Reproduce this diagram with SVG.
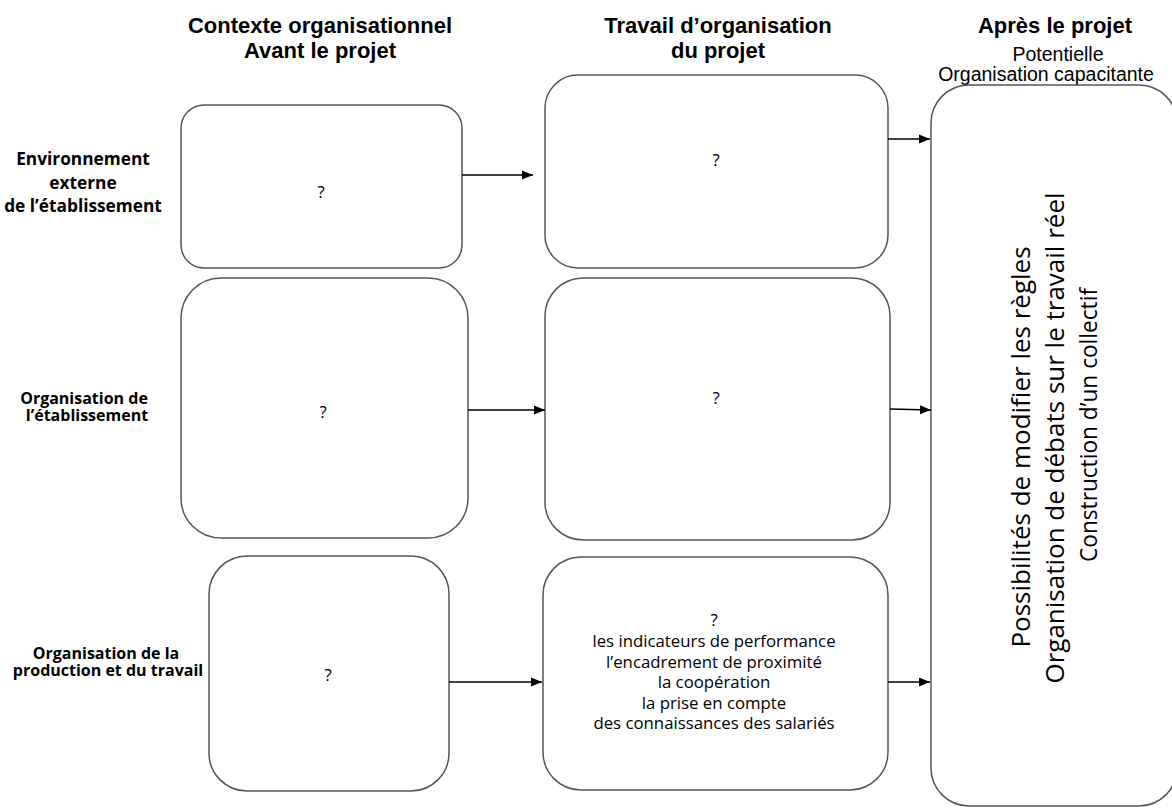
<svg xmlns="http://www.w3.org/2000/svg" width="1172" height="809" viewBox="0 0 1172 809">
<defs>
<marker id="arr" markerUnits="userSpaceOnUse" markerWidth="12" markerHeight="10" refX="11" refY="5" orient="auto">
<path d="M0,0.5 L11,5 L0,9.5 Z" fill="#000"/>
</marker>
<style>
.box{fill:#fff;stroke:#555;stroke-width:1.5}
.hd{font-family:"Liberation Sans",Arial,sans-serif;font-weight:bold;font-size:22px;fill:#000;text-anchor:middle}
.sub{font-family:"Liberation Sans",Arial,sans-serif;font-size:19.5px;fill:#000;text-anchor:middle}
.lab{font-family:"Open Sans","Noto Sans",sans-serif;font-weight:bold;font-size:16px;fill:#000;text-anchor:middle}
.labL{font-family:"Open Sans","Noto Sans",sans-serif;font-weight:bold;font-size:17.3px;fill:#000;text-anchor:middle}
.txt{font-family:"Open Sans","Noto Sans",sans-serif;font-size:16.8px;fill:#000;text-anchor:middle}
.big{font-family:"Open Sans","Noto Sans",sans-serif;font-size:26px;fill:#000;text-anchor:middle}
.con{stroke:#000;stroke-width:1.4;fill:none;marker-end:url(#arr)}
</style>
</defs>
<rect width="1172" height="809" fill="#fff"/>

<g id="headers">
<text class="hd" x="320" y="33">Contexte organisationnel</text>
<text class="hd" x="320" y="58">Avant le projet</text>
<text class="hd" x="718" y="33">Travail d’organisation</text>
<text class="hd" x="718" y="58">du projet</text>
<text class="hd" x="1055" y="33">Après le projet</text>
<text class="sub" x="1058" y="61">Potentielle</text>
<text class="sub" x="1046" y="81">Organisation capacitante</text>
</g>

<g id="row-labels">
<text class="labL" x="83" y="165">Environnement</text>
<text class="labL" x="83" y="189">externe</text>
<text class="labL" x="83" y="212">de l’établissement</text>
<text class="lab" x="84" y="404">Organisation de</text>
<text class="lab" x="87" y="421">l’établissement</text>
<text class="lab" x="106" y="659">Organisation de la</text>
<text class="lab" x="108" y="676">production et du travail</text>
</g>

<g id="after">
<rect class="box" x="931" y="85" width="246" height="721" rx="38" ry="38"/>
<text class="big" transform="translate(1030,447) rotate(-90)">Possibilités de modifier les règles</text>
<text class="big" transform="translate(1064,438) rotate(-90)">Organisation de débats sur le travail réel</text>
<text class="big" transform="translate(1097,425) rotate(-90)" style="font-size:24.5px" textLength="274" lengthAdjust="spacingAndGlyphs">Construction d’un collectif</text>
</g>

<g id="ctx-env">
<rect class="box" x="181" y="105" width="281" height="163" rx="23" ry="23"/>
<text class="txt" x="321" y="198">?</text>
</g>
<g id="ctx-etab">
<rect class="box" x="181" y="278" width="287" height="260" rx="40" ry="40"/>
<text class="txt" x="323" y="418">?</text>
</g>
<g id="ctx-prod">
<rect class="box" x="209" y="556" width="240" height="235" rx="38" ry="38"/>
<text class="txt" x="328" y="681">?</text>
</g>

<g id="proj-env">
<rect class="box" x="545" y="75" width="343" height="193" rx="33" ry="33"/>
<text class="txt" x="716" y="166">?</text>
</g>
<g id="proj-etab">
<rect class="box" x="545" y="278" width="345" height="262" rx="38" ry="38"/>
<text class="txt" x="716" y="404">?</text>
</g>
<g id="proj-prod">
<rect class="box" x="543" y="557" width="345" height="233" rx="38" ry="38"/>
<text class="txt" x="714" y="626">?</text>
<text class="txt" x="714" y="647">les indicateurs de performance</text>
<text class="txt" x="714" y="667.5">l’encadrement de proximité</text>
<text class="txt" x="714" y="688">la coopération</text>
<text class="txt" x="714" y="708.5">la prise en compte</text>
<text class="txt" x="714" y="729">des connaissances des salariés</text>
</g>

<g id="connectors">
<line class="con" x1="462" y1="175" x2="533" y2="175"/>
<line class="con" x1="888" y1="139" x2="930" y2="139"/>
<line class="con" x1="468" y1="410" x2="545" y2="410"/>
<line class="con" x1="890" y1="409" x2="931" y2="410"/>
<line class="con" x1="449" y1="682" x2="542" y2="682"/>
<line class="con" x1="888" y1="682" x2="930" y2="682"/>
</g>
</svg>
